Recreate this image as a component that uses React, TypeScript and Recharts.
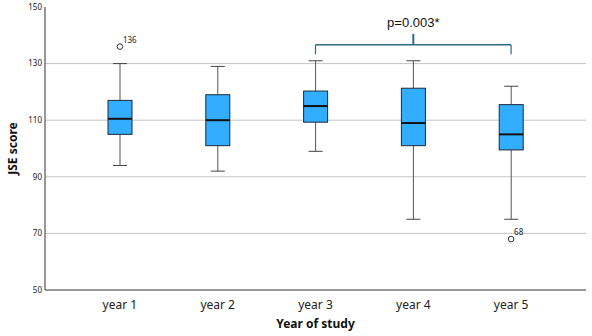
import React from "react";
import {
  ComposedChart,
  Bar,
  Line,
  LabelList,
  XAxis,
  YAxis,
  CartesianGrid,
  ReferenceLine,
} from "recharts";

// values
const categories = ["year 1", "year 2", "year 3", "year 4", "year 5"];
const minVals = [94, 92, 99, 75, 75];
const q1Vals = [105, 101, 109.3, 101, 99.5];
const medianVals = [110.5, 110, 115, 109, 105];
const q3Vals = [117, 119, 120.3, 121.3, 115.5];
const maxVals = [130, 129, 131, 131, 122];
const outlierVals = [136, null, null, null, 68];
const outlierLabels = ["136", null, null, null, "68"];

const yTicks = [50, 70, 90, 110, 130, 150];
const gridVals = [70, 90, 110, 130];

// bracket for the year 3 / year 5 comparison
const bracketY = 136.7;
const bracketEndY = 133.3;
const bracketTopY = 140.5;
const pLabel = "p=0.003*";

const data = categories.map((name, i) => ({
  name,
  min: minVals[i],
  q1: q1Vals[i],
  median: medianVals[i],
  q3: q3Vals[i],
  max: maxVals[i],
  outlier: outlierVals[i],
  outlierLabel: outlierLabels[i],
}));

const FONT = "'Noto Sans', sans-serif";

const BoxShape = (props: any) => {
  const { x, y, width, height, payload } = props;
  if (payload == null) return null;
  const top = Math.min(y, y + height);
  const h = Math.abs(height);
  const toPx = (v: number) =>
    top + ((payload.max - v) / (payload.max - payload.min)) * h;
  const cx = x + width / 2;
  const cap = 7;
  const yMax = toPx(payload.max);
  const yMin = toPx(payload.min);
  const yQ3 = toPx(payload.q3);
  const yQ1 = toPx(payload.q1);
  const yMed = toPx(payload.median);
  return (
    <g>
      <line x1={cx} x2={cx} y1={yMax} y2={yQ3} stroke="#555" strokeWidth={1} />
      <line x1={cx} x2={cx} y1={yQ1} y2={yMin} stroke="#555" strokeWidth={1} />
      <line x1={cx - cap} x2={cx + cap} y1={yMax} y2={yMax} stroke="#444" strokeWidth={1} />
      <line x1={cx - cap} x2={cx + cap} y1={yMin} y2={yMin} stroke="#444" strokeWidth={1} />
      <rect
        x={x}
        y={yQ3}
        width={width}
        height={yQ1 - yQ3}
        fill="#33adff"
        stroke="#1c2b3a"
        strokeWidth={1}
      />
      <line x1={x} x2={x + width} y1={yMed} y2={yMed} stroke="#111" strokeWidth={2} />
    </g>
  );
};

const OutlierDot = (props: any) => {
  const { cx, cy, value, index } = props;
  if (value == null || cy == null) return <g key={`o-${index}`} />;
  return (
    <circle
      key={`o-${index}`}
      cx={cx}
      cy={cy}
      r={2.8}
      fill="#fff"
      stroke="#333"
      strokeWidth={1}
    />
  );
};

const OutlierLabel = (props: any) => {
  const { x, y, value } = props;
  if (value == null || y == null) return null;
  return (
    <text x={x + 3} y={y - 4} fontSize={8} fontFamily={FONT} fill="#222">
      {value}
    </text>
  );
};

const PLabel = (props: any) => {
  const { viewBox } = props;
  if (!viewBox) return null;
  return (
    <text
      x={viewBox.x + (viewBox.width || 0) / 2}
      y={viewBox.y - 7}
      textAnchor="middle"
      fontSize={13}
      fontFamily="'Liberation Sans', Arial, sans-serif"
      fill="#111"
    >
      {pLabel}
    </text>
  );
};

export default function App() {
  return (
    <div style={{ position: "absolute", left: 0, top: 0, background: "#fff" }}>
      <ComposedChart
        width={592}
        height={336}
        data={data}
        margin={{ top: 7, right: 6, bottom: 0, left: 8 }}
      >
        <CartesianGrid
          vertical={false}
          horizontalValues={gridVals}
          stroke="#c4c4c4"
        />
        <XAxis
          dataKey="name"
          padding={{ left: 26, right: 26 }}
          height={46}
          tickLine={false}
          axisLine={{ stroke: "#333" }}
          tick={{ fontSize: 12, fontFamily: FONT, fill: "#222" }}
          tickMargin={4}
          label={{
            value: "Year of study",
            position: "insideBottom",
            offset: 8,
            style: {
              fontSize: 12,
              fontWeight: 700,
              fontFamily: FONT,
              fill: "#111",
            },
          }}
        />
        <YAxis
          width={37}
          domain={[50, 150]}
          ticks={yTicks}
          interval={0}
          tickLine={false}
          tickSize={3}
          tickMargin={0}
          axisLine={{ stroke: "#333" }}
          tick={{ fontSize: 8, fontFamily: FONT, fill: "#222" }}
          label={{
            value: "JSE score",
            angle: -90,
            position: "insideLeft",
            offset: 5,
            style: {
              fontSize: 12,
              fontWeight: 700,
              fontFamily: FONT,
              fill: "#111",
              textAnchor: "middle",
            },
          }}
        />
        <Bar
          dataKey={(d: any) => [d.min, d.max]}
          barSize={24}
          shape={<BoxShape />}
          isAnimationActive={false}
        />
        <Line
          dataKey="outlier"
          stroke="none"
          dot={<OutlierDot />}
          activeDot={false}
          isAnimationActive={false}
        >
          <LabelList dataKey="outlierLabel" content={<OutlierLabel />} />
        </Line>
        <ReferenceLine
          segment={[
            { x: "year 3", y: bracketY },
            { x: "year 5", y: bracketY },
          ]}
          stroke="#2f6d84"
          strokeWidth={1.5}
        />
        <ReferenceLine
          segment={[
            { x: "year 3", y: bracketY },
            { x: "year 3", y: bracketEndY },
          ]}
          stroke="#2f6d84"
          strokeWidth={1.2}
        />
        <ReferenceLine
          segment={[
            { x: "year 5", y: bracketY },
            { x: "year 5", y: bracketEndY },
          ]}
          stroke="#2f6d84"
          strokeWidth={1.2}
        />
        <ReferenceLine
          segment={[
            { x: "year 4", y: bracketY },
            { x: "year 4", y: bracketTopY },
          ]}
          stroke="#2f6d84"
          strokeWidth={2}
          label={<PLabel />}
        />
      </ComposedChart>
    </div>
  );
}
